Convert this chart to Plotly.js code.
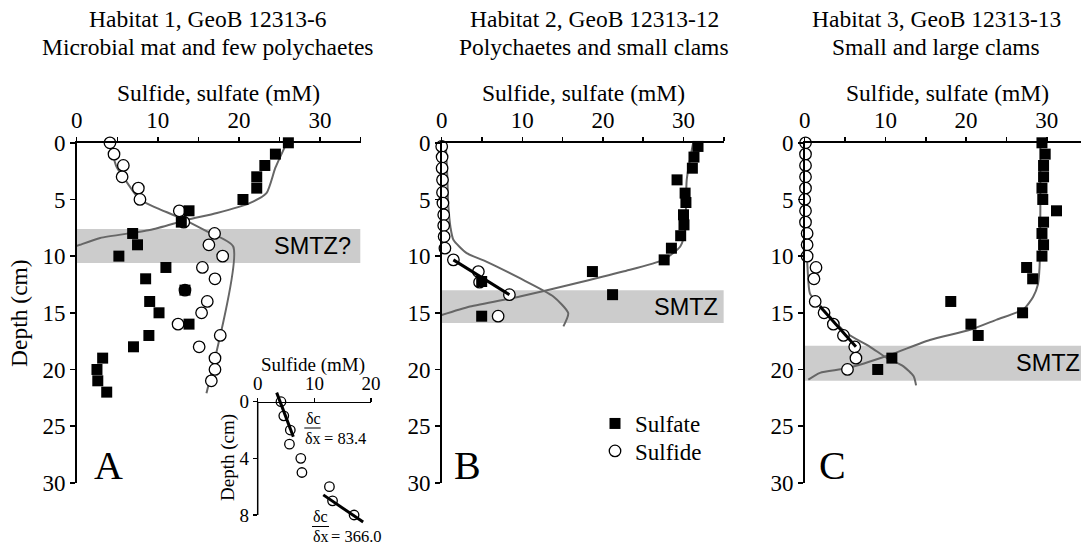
<!DOCTYPE html>
<html><head><meta charset="utf-8">
<script src="https://cdn.plot.ly/plotly-3.0.1.min.js"></script>
<style>html,body{margin:0;padding:0;background:#fff}#chart{width:1081px;height:547px}</style>
</head><body><div id="chart"></div>
<script>
// ---------- DATA ----------
var xTickVals = [0, 5, 10, 15, 20, 25, 30, 35];
var xTickText = ['0', '', '10', '', '20', '', '30', ''];
var yTickVals = [0, 5, 10, 15, 20, 25, 30];
var insetXTicks = [0, 10, 20];
var insetYTicks = [0, 4, 8];

// Habitat 1 (A)
var sulfideA_depth = [0,1,2,3,4,5,6,7,8,9,10,11,12,13,14,15,16,17,18,19,20,21];
var sulfideA = [4.1,4.6,5.75,5.6,7.6,7.8,12.65,13.2,17.0,16.3,18.0,15.5,17.05,13.35,16.1,15.4,12.5,17.7,15.1,17.05,17.05,16.6];
var sulfateA_depth = [0,1,2,3,4,5,6,7,8,9,10,11,12,13,14,15,16,17,18,19,20,21,22];
var sulfateA = [26.1,24.5,23.2,22.2,22.2,20.5,13.85,12.9,6.9,7.5,5.2,11.0,8.5,13.35,9.0,10.15,13.85,8.9,7.0,3.2,2.5,2.6,3.7];
var modelSulfateA = [25.9,24.5,23.4,21.4,17.3,13.6,9.0,2.9,0.4,0];
var modelSulfateA_depth = [0,2.2,4.45,5.3,6.2,6.8,7.7,8.4,9.0,9.1];
var modelSulfideA = [4.1,4.9,6.3,7.8,9.9,12.7,16.0,19.3,16.0];
var modelSulfideA_depth = [0,2.1,3.6,5.03,5.76,6.6,7.8,9.15,22.1];
var smtzA = [7.6, 10.6];

// Inset (A, upper sulfide)
var insetN = 9;
var fit1A = [3.35, 6.28], fit1A_depth = [-0.64, 2.47];
var fit2A = [11.57, 18.6], fit2A_depth = [6.58, 8.5];
var fluxLabels = ['= 83.4', '= 366.0'];

// Habitat 2 (B)
var sulfideB_depth = [0.32,1.26,2.24,3.27,4.38,5.32,6.35,7.3,8.27,9.3,10.33,11.36,12.3,13.4,15.3];
var sulfideB = [0.0,0.05,0.05,0.1,0.1,0.15,0.25,0.25,0.3,0.4,1.45,4.55,4.7,8.4,7.0];
var sulfateB_depth = [0.32,1.26,2.24,3.27,4.44,5.27,6.35,7.24,8.2,9.3,10.33,11.36,12.24,13.4,15.3];
var sulfateB = [31.8,31.3,31.1,29.2,30.2,30.3,30.0,30.06,29.65,28.5,27.6,18.7,4.96,21.2,4.96];
var modelSulfateB = [31.2,30.4,30.2,29.6,27.5,22.5,15.9,9.7,3.5,0];
var modelSulfateB_depth = [0,3.27,7.7,9.15,10.33,11.36,12.53,13.56,14.45,15.2];
var modelSulfideB = [0.5,0.7,0.8,1.1,1.45,3.1,5.6,9.7,13.85,15.7,15.1];
var modelSulfideB_depth = [0,3,5.3,7.5,8.56,9.74,10.5,11.95,13.56,15.03,16.2];
var fitB = [1.45, 8.4], fitB_depth = [10.33, 13.4];
var smtzB = [13.0, 15.9];

// Habitat 3 (C)
var sulfideC_depth = [0,1,2,3,4,5,6,7,8,9,10,11,12,14,15,16,17,18,19,20];
var sulfideC = [0.1,0.1,0.1,0.1,0.1,0.0,0.1,0.1,0.3,0.3,0.3,1.4,1.15,1.3,2.4,3.55,4.8,6.2,6.35,5.3];
var sulfateC_depth = [0,1,2,3,4,5,6,7,8,9,10,11,12,14,15,16,17,19,20];
var sulfateC = [29.4,29.8,29.6,29.6,29.4,29.5,31.2,29.6,29.4,29.6,29.4,27.5,28.25,18.1,27.0,20.6,21.5,10.8,9.05];
var modelSulfateC = [29.2,29.2,29.1,28.9,28.3,27.1,23.8,20.5,15.5,10.6,5.2,1.9,0.45];
var modelSulfateC_depth = [0,6,11,12.5,13.6,14.7,15.6,16.5,17.4,18.7,19.9,20.3,20.9];
var modelSulfideC = [0.05,0.2,0.35,0.65,1.7,2.7,5.2,8.1,10.2,12.2,13.5,13.8];
var modelSulfideC_depth = [0,8,11,13.3,14.2,15,16.8,18,19,19.7,20.6,21.4];
var fitC = [1.9, 6.35], fitC_depth = [14.45, 18.0];
var smtzC = [17.9, 21.0];

var panelTitles1 = ['Habitat 1, GeoB 12313-6', 'Habitat 2, GeoB 12313-12', 'Habitat 3, GeoB 12313-13'];
var panelTitles2 = ['Microbial mat and few polychaetes', 'Polychaetes and small clams', 'Small and large clams'];
var panelLetters = ['A', 'B', 'C'];
var smtzLabels = ['SMTZ?', 'SMTZ', 'SMTZ'];

// ---------- LAYOUT HELPERS ----------
var W = 1081, H = 547;
function px(x) { return x / W; }
function py(y) { return 1 - y / H; }
var SERIF = 'Liberation Serif', SANS = 'Liberation Sans';
var GRAY = '#666666';

var xDom = [[76.7, 360.55], [441.7, 723.8], [804.7, 1081]];
var xRangeEnd = [35, 35, (1081 - 804.7) / 8.07];
var yDomMain = [py(482.8), py(142.8)];

var traces = [];
function line(x, y, xa, ya, color, width) {
  traces.push({type:'scatter', mode:'lines', x:x, y:y, xaxis:xa, yaxis:ya,
    line:{color:color, width:width, shape:'spline', smoothing:0.6}, showlegend:false, hoverinfo:'skip'});
}
function straight(x, y, xa, ya) {
  traces.push({type:'scatter', mode:'lines', x:x, y:y, xaxis:xa, yaxis:ya,
    line:{color:'#000', width:3}, showlegend:false, hoverinfo:'skip'});
}
function circles(x, y, xa, ya, size, legend) {
  traces.push({type:'scatter', mode:'markers', x:x, y:y, xaxis:xa, yaxis:ya, name:'Sulfide',
    marker:{symbol:'circle', size:size, color:'#fff', line:{color:'#000', width:1.3}},
    showlegend:!!legend, legend:'legend2', cliponaxis:false});
}
function squares(x, y, xa, ya, legend) {
  traces.push({type:'scatter', mode:'markers', x:x, y:y, xaxis:xa, yaxis:ya, name:'Sulfate',
    marker:{symbol:'square', size:11, color:'#000', line:{width:0}},
    showlegend:!!legend, legend:'legend', cliponaxis:false});
}

// Panel A
line(modelSulfateA, modelSulfateA_depth, 'x', 'y', GRAY, 2);
line(modelSulfideA, modelSulfideA_depth, 'x', 'y', GRAY, 2);
circles(sulfideA, sulfideA_depth, 'x', 'y', 11.5);
squares(sulfateA, sulfateA_depth, 'x', 'y');
// Panel B
line(modelSulfateB, modelSulfateB_depth, 'x2', 'y2', GRAY, 2);
line(modelSulfideB, modelSulfideB_depth, 'x2', 'y2', GRAY, 2);
circles(sulfideB, sulfideB_depth, 'x2', 'y2', 11.5, true);
squares(sulfateB, sulfateB_depth, 'x2', 'y2', true);
straight(fitB, fitB_depth, 'x2', 'y2');
// Panel C
line(modelSulfateC, modelSulfateC_depth, 'x3', 'y3', GRAY, 2);
line(modelSulfideC, modelSulfideC_depth, 'x3', 'y3', GRAY, 2);
circles(sulfideC, sulfideC_depth, 'x3', 'y3', 11.5);
squares(sulfateC, sulfateC_depth, 'x3', 'y3');
straight(fitC, fitC_depth, 'x3', 'y3');
// Inset
circles(sulfideA.slice(0, insetN), sulfideA_depth.slice(0, insetN), 'x4', 'y4', 9.5);
straight(fit1A, fit1A_depth, 'x4', 'y4');
straight(fit2A, fit2A_depth, 'x4', 'y4');

function mainX(i, anchor) {
  return {domain:[px(xDom[i][0]), px(xDom[i][1])], range:[0, xRangeEnd[i]], side:'top', anchor:anchor,
    tickmode:'array', tickvals:xTickVals, ticktext:xTickText, ticks:'outside', ticklen:4, tickwidth:1.5,
    tickcolor:'#000', showline:true, linewidth:1.5, linecolor:'#000', showgrid:false, zeroline:false,
    tickfont:{family:SERIF, size:23, color:'#000'}, fixedrange:true};
}
function mainY(anchor) {
  return {domain:yDomMain, range:[30, 0], anchor:anchor, tickmode:'array', tickvals:yTickVals,
    ticks:'outside', ticklen:5, tickwidth:1.5, tickcolor:'#000', showline:true, linewidth:1.5,
    linecolor:'#000', showgrid:false, zeroline:false,
    tickfont:{family:SERIF, size:23, color:'#000'}, fixedrange:true};
}

var shapes = [];
function band(r, xa, ya, xend) {
  shapes.push({type:'rect', xref:xa, yref:ya, x0:0, x1:xend, y0:r[0], y1:r[1],
    fillcolor:'#cccccc', line:{width:0}, layer:'below'});
}
band(smtzA, 'x', 'y', xRangeEnd[0]);
band(smtzB, 'x2', 'y2', xRangeEnd[1]);
band(smtzC, 'x3', 'y3', xRangeEnd[2]);
// inset y axis line (0..8)
shapes.push({type:'line', xref:'paper', yref:'y4', x0:px(257.7), x1:px(257.7), y0:0, y1:8, line:{color:'#000', width:1.5}});
// fraction bars
shapes.push({type:'line', xref:'paper', yref:'paper', x0:px(304.3), x1:px(320.7), y0:py(428), y1:py(428), line:{color:'#000', width:1}});
shapes.push({type:'line', xref:'paper', yref:'paper', x0:px(312), x1:px(329), y0:py(526.5), y1:py(526.5), line:{color:'#000', width:1}});

var ann = [];
function txt(t, x, y, size, opts) {
  var a = {text:t, xref:'paper', yref:'paper', x:px(x), y:py(y), showarrow:false,
    xanchor:'center', yanchor:'middle', borderpad:0, font:{family:SERIF, size:size, color:'#000'}};
  if (opts) for (var k in opts) a[k] = opts[k];
  ann.push(a);
}
var titleX = [208, 594, 936];
var axTitleX = [218.6, 583, 947];
var letterX = [108.4, 467.5, 832];
for (var i = 0; i < 3; i++) {
  txt(panelTitles1[i], titleX[i], 19.2, 23.5);
  txt(panelTitles2[i], titleX[i], 46.7, 23.5);
  txt('Sulfide, sulfate (mM)', axTitleX[i], 93.3, 23.5);
  txt(panelLetters[i], letterX[i], 465, 40);
}
txt('Depth (cm)', 19, 313, 23.5, {textangle:-90});
// SMTZ labels
txt(smtzLabels[0], 351.7, 246.5, 23.5, {xanchor:'right', font:{family:SANS, size:23.5, color:'#000'}});
txt(smtzLabels[1], 719.3, 306.7, 23.5, {xanchor:'right', font:{family:SANS, size:23.5, color:'#000'}});
txt(smtzLabels[2], 1081, 362.5, 23.5, {xanchor:'right', font:{family:SANS, size:23.5, color:'#000'}});
// inset texts
txt('Sulfide (mM)', 313, 365.4, 19);
txt('Depth (cm)', 228, 458, 19, {textangle:-90});
txt('δc', 313, 418.5, 16);
txt('δx', 312.5, 438, 16);
txt(fluxLabels[0], 322.7, 438, 16.5, {xanchor:'left'});
txt('δc', 320.5, 516.5, 16);
txt('δx', 320.5, 536, 16);
txt(fluxLabels[1], 330, 536, 16.5, {xanchor:'left'});

var legendBase = {xanchor:'left', yanchor:'top', font:{family:SERIF, size:23, color:'#000'},
  bgcolor:'rgba(0,0,0,0)', borderwidth:0, tracegroupgap:0};
var layout = {
  width:W, height:H, margin:{l:0, r:0, t:0, b:0},
  paper_bgcolor:'#fff', plot_bgcolor:'rgba(0,0,0,0)',
  font:{family:SERIF, size:23, color:'#000'},
  xaxis:mainX(0, 'y'), yaxis:mainY('x'),
  xaxis2:mainX(1, 'y2'), yaxis2:mainY('x2'),
  xaxis3:mainX(2, 'y3'), yaxis3:mainY('x3'),
  xaxis4:{domain:[px(257.7), px(371.1)], range:[0, 20], side:'top', anchor:'free', position:py(401.7),
    tickmode:'array', tickvals:insetXTicks, ticks:'outside', ticklen:4, tickwidth:1.5, tickcolor:'#000',
    showline:true, linewidth:1.5, linecolor:'#000', showgrid:false, zeroline:false,
    tickfont:{family:SERIF, size:19, color:'#000'}, fixedrange:true},
  yaxis4:{domain:[py(524.9), py(391.8)], range:[8.7, -0.7], anchor:'x4', tickmode:'array', tickvals:insetYTicks,
    ticks:'outside', ticklen:4, tickwidth:1.5, tickcolor:'#000', showline:false, showgrid:false, zeroline:false,
    tickfont:{family:SERIF, size:19, color:'#000'}, fixedrange:true},
  showlegend:true,
  legend:Object.assign({x:px(595), y:py(402)}, legendBase),
  legend2:Object.assign({x:px(595), y:py(429.5)}, legendBase),
  shapes:shapes, annotations:ann
};
Plotly.newPlot('chart', traces, layout, {displayModeBar:false, staticPlot:true});
</script></body></html>
